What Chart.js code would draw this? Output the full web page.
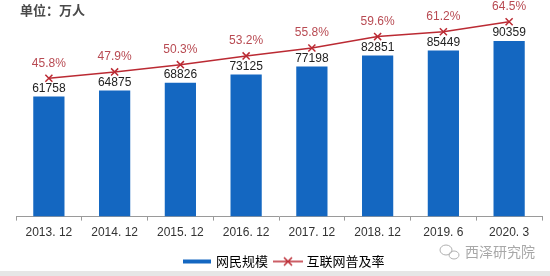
<!DOCTYPE html>
<html>
<head>
<meta charset="utf-8">
<script src="https://cdn.jsdelivr.net/npm/chart.js@4/dist/chart.umd.min.js"></script>
<style>
  html, body { margin: 0; padding: 0; background: #ffffff; }
  #wrap { width: 550px; height: 276px; position: relative; }
</style>
</head>
<body>
<div id="wrap"><canvas id="c" width="550" height="276"></canvas></div>
<script>
// Internet users (10k persons) and penetration rate (%)
const periods = ['2013. 12', '2014. 12', '2015. 12', '2016. 12', '2017. 12', '2018. 12', '2019. 6', '2020. 3'];
const netizens = [61758, 64875, 68826, 73125, 77198, 82851, 85449, 90359];
const penetration = [45.8, 47.9, 50.3, 53.2, 55.8, 59.6, 61.2, 64.5];
const seriesNames = ['网民规模', '互联网普及率'];
const unitLabel = '单位：万人';
const brandLabel = '西泽研究院';

const BLUE = '#1467c1';
const RED = '#bb2a33';
const RED_TEXT = '#b84a52';
const NUM_FONT = '"Liberation Sans", Arial, sans-serif';
const CJK_FONT = '"Noto Sans CJK SC", "Noto Sans", sans-serif';

// legend swatches
function swatchBar() {
  const c = document.createElement('canvas');
  c.width = 28; c.height = 10;
  const g = c.getContext('2d');
  g.fillStyle = BLUE;
  g.fillRect(0, 3, 28, 4);
  return c;
}
function swatchLine() {
  const c = document.createElement('canvas');
  c.width = 30; c.height = 12;
  const g = c.getContext('2d');
  g.strokeStyle = RED; g.lineWidth = 1.5;
  g.beginPath(); g.moveTo(0, 6); g.lineTo(30, 6); g.stroke();
  g.beginPath();
  g.moveTo(11, 2); g.lineTo(19, 10);
  g.moveTo(19, 2); g.lineTo(11, 10);
  g.stroke();
  return c;
}

// value labels, unit caption and brand mark
const annotate = {
  id: 'annotate',
  afterLayout(chart) {
    // nudge the legend row a little to the right and down
    if (chart.legend) {
      chart.legend.left += 6; chart.legend.right += 6;
      chart.legend.top += 2; chart.legend.bottom += 2;
    }
  },
  afterDatasetsDraw(chart) {
    const ctx = chart.ctx;
    ctx.save();
    ctx.textAlign = 'center';
    ctx.textBaseline = 'bottom';
    ctx.font = '12px ' + NUM_FONT;
    ctx.fillStyle = '#222222';
    chart.getDatasetMeta(0).data.forEach((el, i) => {
      ctx.fillText(String(netizens[i]), el.x, el.y - 2);
    });
    ctx.fillStyle = RED_TEXT;
    chart.getDatasetMeta(1).data.forEach((el, i) => {
      ctx.fillText(penetration[i].toFixed(1) + '%', el.x, el.y - 9);
    });
    ctx.restore();
  },
  afterDraw(chart) {
    const ctx = chart.ctx;
    ctx.save();
    ctx.textBaseline = 'middle';
    ctx.textAlign = 'left';
    ctx.font = 'bold 13px ' + CJK_FONT;
    ctx.fillStyle = '#4a4a4a';
    ctx.fillText(unitLabel, 20, 10);

    // brand mark with a small chat-bubble icon
    ctx.strokeStyle = '#b0b0b0';
    ctx.lineWidth = 1;
    ctx.beginPath(); ctx.ellipse(446, 250, 6, 5, 0, 0, Math.PI * 2); ctx.stroke();
    ctx.beginPath(); ctx.ellipse(454, 255, 5, 4, 0, 0, Math.PI * 2); ctx.stroke();
    ctx.font = '14px ' + CJK_FONT;
    ctx.fillStyle = '#a8a8a8';
    ctx.fillText(brandLabel, 465, 252);

    ctx.fillStyle = '#e6e6e6';
    ctx.fillRect(0, 271, 550, 5);
    ctx.restore();
  }
};

new Chart(document.getElementById('c'), {
  data: {
    labels: periods,
    datasets: [
      {
        type: 'bar',
        label: seriesNames[0],
        data: netizens,
        backgroundColor: BLUE,
        yAxisID: 'y',
        categoryPercentage: 1,
        barPercentage: 0.475,
        order: 2
      },
      {
        type: 'line',
        label: seriesNames[1],
        data: penetration,
        borderColor: RED,
        borderWidth: 1.5,
        pointStyle: 'crossRot',
        pointRadius: 5,
        pointBorderColor: RED,
        pointBorderWidth: 1.5,
        yAxisID: 'y2',
        clip: false,
        order: 1
      }
    ]
  },
  options: {
    responsive: false,
    animation: false,
    layout: { padding: { left: 16, right: 8, top: 10, bottom: 0 } },
    scales: {
      x: {
        offset: true,
        grid: { display: true, drawOnChartArea: false, offset: true, tickLength: 4, color: '#9a9a9a' },
        border: { display: true, color: '#9a9a9a' },
        ticks: { color: '#333333', padding: 5, font: { family: NUM_FONT, size: 12 } }
      },
      y: { display: false, min: 0, max: 106300 },
      y2: { display: false, min: 0, max: 68.4 }
    },
    plugins: {
      tooltip: { enabled: false },
      legend: {
        position: 'bottom',
        labels: {
          usePointStyle: true,
          pointStyleWidth: 24,
          padding: 8,
          color: '#333333',
          font: { family: CJK_FONT, size: 13 },
          generateLabels() {
            return [
              { text: seriesNames[0], pointStyle: swatchBar(), fillStyle: BLUE, strokeStyle: BLUE, lineWidth: 0, datasetIndex: 0 },
              { text: seriesNames[1], pointStyle: swatchLine(), fillStyle: RED, strokeStyle: RED, lineWidth: 0, datasetIndex: 1 }
            ];
          }
        }
      }
    }
  },
  plugins: [annotate]
});
</script>
</body>
</html>
